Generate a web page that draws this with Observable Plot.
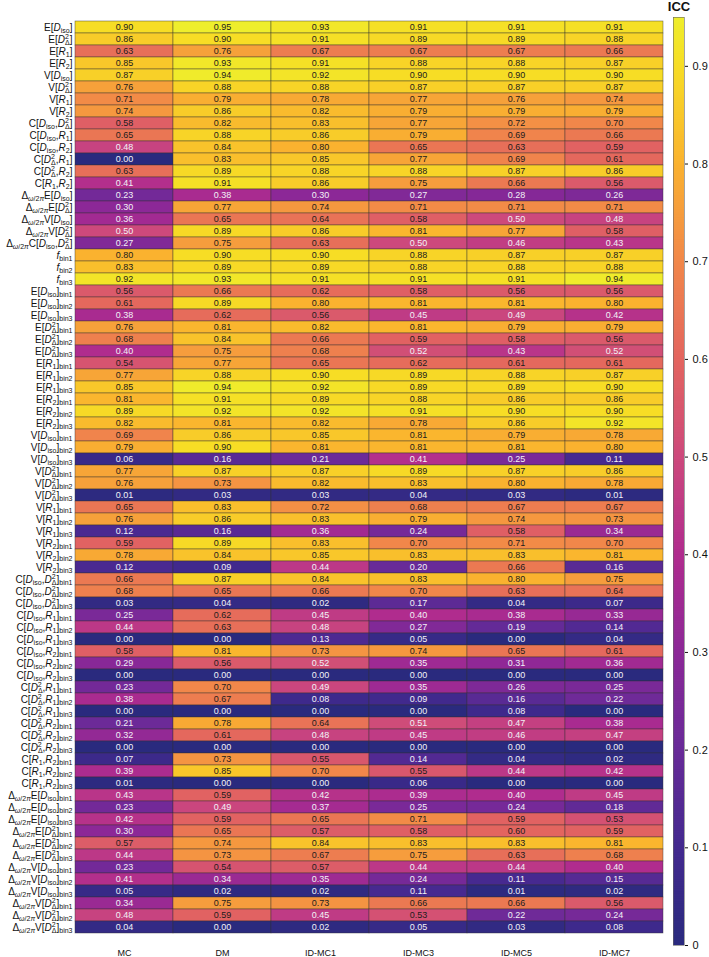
<!DOCTYPE html>
<html>
<head>
<meta charset="utf-8">
<script src="https://cdn.jsdelivr.net/npm/d3@7"></script>
<script src="https://cdn.jsdelivr.net/npm/@observablehq/plot@0.6"></script>
<style>
  body { margin: 0; background: #fff; font-family: "Liberation Sans", Arial, sans-serif; }
  #wrap { position: relative; width: 709px; height: 957px; overflow: hidden; }
  #wrap svg { position: absolute; top: 0; overflow: visible; }
  #icc { position: absolute; left: 662px; width: 34px; top: 0px; text-align: center;
         font-weight: bold; font-size: 13px; line-height: 14px; color: #111; }
</style>
</head>
<body>
<div id="wrap"><div id="icc">ICC</div></div>
<script>
// Methods (columns)
const methods = ["MC", "DM", "ID-MC1", "ID-MC3", "ID-MC5", "ID-MC7"];

// Parameter labels (rows), written in a small markup: _{..} subscript, ^{..} superscript
const rowLabels = [
  "E[D_{iso}]", "E[D^{2}_{Δ}]", "E[R_{1}]", "E[R_{2}]",
  "V[D_{iso}]", "V[D^{2}_{Δ}]", "V[R_{1}]", "V[R_{2}]",
  "C[D_{iso},D^{2}_{Δ}]", "C[D_{iso},R_{1}]", "C[D_{iso},R_{2}]",
  "C[D^{2}_{Δ},R_{1}]", "C[D^{2}_{Δ},R_{2}]", "C[R_{1},R_{2}]",
  "Δ_{ω/2π}E[D_{iso}]", "Δ_{ω/2π}E[D^{2}_{Δ}]", "Δ_{ω/2π}V[D_{iso}]", "Δ_{ω/2π}V[D^{2}_{Δ}]",
  "Δ_{ω/2π}C[D_{iso},D^{2}_{Δ}]",
  "f_{bin1}", "f_{bin2}", "f_{bin3}",
  "E[D_{iso}]_{bin1}", "E[D_{iso}]_{bin2}", "E[D_{iso}]_{bin3}",
  "E[D^{2}_{Δ}]_{bin1}", "E[D^{2}_{Δ}]_{bin2}", "E[D^{2}_{Δ}]_{bin3}",
  "E[R_{1}]_{bin1}", "E[R_{1}]_{bin2}", "E[R_{1}]_{bin3}",
  "E[R_{2}]_{bin1}", "E[R_{2}]_{bin2}", "E[R_{2}]_{bin3}",
  "V[D_{iso}]_{bin1}", "V[D_{iso}]_{bin2}", "V[D_{iso}]_{bin3}",
  "V[D^{2}_{Δ}]_{bin1}", "V[D^{2}_{Δ}]_{bin2}", "V[D^{2}_{Δ}]_{bin3}",
  "V[R_{1}]_{bin1}", "V[R_{1}]_{bin2}", "V[R_{1}]_{bin3}",
  "V[R_{2}]_{bin1}", "V[R_{2}]_{bin2}", "V[R_{2}]_{bin3}",
  "C[D_{iso},D^{2}_{Δ}]_{bin1}", "C[D_{iso},D^{2}_{Δ}]_{bin2}", "C[D_{iso},D^{2}_{Δ}]_{bin3}",
  "C[D_{iso},R_{1}]_{bin1}", "C[D_{iso},R_{1}]_{bin2}", "C[D_{iso},R_{1}]_{bin3}",
  "C[D_{iso},R_{2}]_{bin1}", "C[D_{iso},R_{2}]_{bin2}", "C[D_{iso},R_{2}]_{bin3}",
  "C[D^{2}_{Δ},R_{1}]_{bin1}", "C[D^{2}_{Δ},R_{1}]_{bin2}", "C[D^{2}_{Δ},R_{1}]_{bin3}",
  "C[D^{2}_{Δ},R_{2}]_{bin1}", "C[D^{2}_{Δ},R_{2}]_{bin2}", "C[D^{2}_{Δ},R_{2}]_{bin3}",
  "C[R_{1},R_{2}]_{bin1}", "C[R_{1},R_{2}]_{bin2}", "C[R_{1},R_{2}]_{bin3}",
  "Δ_{ω/2π}E[D_{iso}]_{bin1}", "Δ_{ω/2π}E[D_{iso}]_{bin2}", "Δ_{ω/2π}E[D_{iso}]_{bin3}",
  "Δ_{ω/2π}E[D^{2}_{Δ}]_{bin1}", "Δ_{ω/2π}E[D^{2}_{Δ}]_{bin2}", "Δ_{ω/2π}E[D^{2}_{Δ}]_{bin3}",
  "Δ_{ω/2π}V[D_{iso}]_{bin1}", "Δ_{ω/2π}V[D_{iso}]_{bin2}", "Δ_{ω/2π}V[D_{iso}]_{bin3}",
  "Δ_{ω/2π}V[D^{2}_{Δ}]_{bin1}", "Δ_{ω/2π}V[D^{2}_{Δ}]_{bin2}", "Δ_{ω/2π}V[D^{2}_{Δ}]_{bin3}"
];

// ICC values, one array per method, in row order
const iccMC = [
  0.90, 0.86, 0.63, 0.85, 0.87, 0.76, 0.71, 0.74, 0.58, 0.65, 0.48, 0.00, 0.63, 0.41,
  0.23, 0.30, 0.36, 0.50, 0.27, 0.80, 0.83, 0.92,
  0.56, 0.61, 0.38, 0.76, 0.68, 0.40, 0.54, 0.77, 0.85, 0.81, 0.89, 0.82,
  0.69, 0.79, 0.06, 0.77, 0.76, 0.01, 0.65, 0.76, 0.12, 0.59, 0.78, 0.12,
  0.66, 0.68, 0.03, 0.25, 0.44, 0.00, 0.58, 0.29, 0.00, 0.23, 0.38, 0.00,
  0.21, 0.32, 0.00, 0.07, 0.39, 0.01,
  0.43, 0.23, 0.42, 0.30, 0.57, 0.44, 0.23, 0.41, 0.05, 0.34, 0.48, 0.04
];
const iccDM = [
  0.95, 0.90, 0.76, 0.93, 0.94, 0.88, 0.79, 0.86, 0.82, 0.88, 0.84, 0.83, 0.89, 0.91,
  0.38, 0.77, 0.65, 0.89, 0.75, 0.90, 0.89, 0.93,
  0.66, 0.89, 0.62, 0.81, 0.84, 0.75, 0.77, 0.88, 0.94, 0.91, 0.92, 0.81,
  0.86, 0.90, 0.16, 0.87, 0.73, 0.03, 0.83, 0.86, 0.16, 0.89, 0.84, 0.09,
  0.87, 0.65, 0.04, 0.62, 0.63, 0.00, 0.81, 0.56, 0.00, 0.70, 0.67, 0.00,
  0.78, 0.61, 0.00, 0.73, 0.85, 0.00,
  0.59, 0.49, 0.59, 0.65, 0.74, 0.73, 0.54, 0.34, 0.02, 0.75, 0.59, 0.00
];
const iccIDMC1 = [
  0.93, 0.91, 0.67, 0.91, 0.92, 0.88, 0.78, 0.82, 0.83, 0.86, 0.80, 0.85, 0.88, 0.86,
  0.30, 0.74, 0.64, 0.86, 0.63, 0.90, 0.89, 0.91,
  0.62, 0.80, 0.56, 0.82, 0.66, 0.68, 0.65, 0.90, 0.92, 0.89, 0.92, 0.82,
  0.85, 0.81, 0.21, 0.87, 0.82, 0.03, 0.72, 0.83, 0.36, 0.83, 0.85, 0.44,
  0.84, 0.66, 0.02, 0.45, 0.48, 0.13, 0.73, 0.52, 0.00, 0.49, 0.08, 0.00,
  0.64, 0.48, 0.00, 0.55, 0.70, 0.00,
  0.42, 0.37, 0.65, 0.57, 0.84, 0.67, 0.57, 0.35, 0.02, 0.73, 0.45, 0.02
];
const iccIDMC3 = [
  0.91, 0.89, 0.67, 0.88, 0.90, 0.87, 0.77, 0.79, 0.77, 0.79, 0.65, 0.77, 0.88, 0.75,
  0.27, 0.71, 0.58, 0.81, 0.50, 0.88, 0.88, 0.91,
  0.58, 0.81, 0.45, 0.81, 0.59, 0.52, 0.62, 0.89, 0.89, 0.88, 0.91, 0.78,
  0.81, 0.81, 0.41, 0.89, 0.83, 0.04, 0.68, 0.79, 0.24, 0.70, 0.83, 0.20,
  0.83, 0.70, 0.17, 0.40, 0.27, 0.05, 0.74, 0.35, 0.00, 0.35, 0.09, 0.00,
  0.51, 0.45, 0.00, 0.14, 0.55, 0.06,
  0.39, 0.25, 0.71, 0.58, 0.83, 0.75, 0.44, 0.24, 0.11, 0.66, 0.53, 0.05
];
const iccIDMC5 = [
  0.91, 0.89, 0.67, 0.88, 0.90, 0.87, 0.76, 0.79, 0.72, 0.69, 0.63, 0.69, 0.87, 0.66,
  0.28, 0.71, 0.50, 0.77, 0.46, 0.87, 0.88, 0.91,
  0.56, 0.81, 0.49, 0.79, 0.58, 0.43, 0.61, 0.88, 0.89, 0.86, 0.90, 0.86,
  0.79, 0.81, 0.25, 0.87, 0.80, 0.03, 0.67, 0.74, 0.58, 0.71, 0.83, 0.66,
  0.80, 0.63, 0.04, 0.38, 0.19, 0.00, 0.65, 0.31, 0.00, 0.26, 0.16, 0.08,
  0.47, 0.46, 0.00, 0.04, 0.44, 0.00,
  0.40, 0.24, 0.59, 0.60, 0.83, 0.63, 0.44, 0.11, 0.01, 0.66, 0.22, 0.03
];
const iccIDMC7 = [
  0.91, 0.88, 0.66, 0.87, 0.90, 0.87, 0.74, 0.79, 0.70, 0.66, 0.59, 0.61, 0.86, 0.56,
  0.26, 0.71, 0.48, 0.58, 0.43, 0.87, 0.88, 0.94,
  0.56, 0.80, 0.42, 0.79, 0.56, 0.52, 0.61, 0.87, 0.90, 0.86, 0.90, 0.92,
  0.78, 0.80, 0.11, 0.86, 0.78, 0.01, 0.67, 0.73, 0.34, 0.70, 0.81, 0.16,
  0.75, 0.64, 0.07, 0.33, 0.14, 0.04, 0.61, 0.36, 0.00, 0.25, 0.22, 0.00,
  0.38, 0.47, 0.00, 0.02, 0.42, 0.00,
  0.45, 0.18, 0.53, 0.59, 0.81, 0.68, 0.40, 0.15, 0.02, 0.56, 0.24, 0.08
];
const columns = [iccMC, iccDM, iccIDMC1, iccIDMC3, iccIDMC5, iccIDMC7];

// Colour bar tick values
const colorTicks = [0, 0.1, 0.2, 0.3, 0.4, 0.5, 0.6, 0.7, 0.8, 0.9];

// Plasma-like ramp over the ICC range
const iccMax = 0.95;
const rampStops = [0, 0.1, 0.2, 0.3, 0.4, 0.5, 0.6, 0.7, 0.8, 0.9, 0.95];
const rampColors = ["#2a2a7e", "#43298f", "#682a98", "#8c2897", "#b02c8e", "#cd497c",
                    "#e3655f", "#f1874a", "#fab22f", "#f7dd25", "#eeee2c"];
const ramp = d3.scaleLinear().domain(rampStops).range(rampColors)
  .interpolate(d3.interpolateRgb).clamp(true);
const colorScale = {type: "linear", domain: [0, iccMax], interpolate: t => ramp(t * iccMax)};

const cells = rowLabels.flatMap((row, i) =>
  methods.map((method, j) => ({row, method, value: columns[j][i]})));

const fontFamily = "'Liberation Sans', Arial, sans-serif";
const light = d => d.value >= 0.525;

const heat = Plot.plot({
  width: 668,
  height: 957,
  marginLeft: 75,
  marginRight: 5,
  marginTop: 8,
  marginBottom: 12,
  style: {fontFamily, fontSize: "9px", background: "transparent", color: "#111"},
  x: {domain: methods, padding: 0, tickSize: 0, tickPadding: 4, label: null},
  y: {domain: rowLabels, padding: 0, tickSize: 0, tickPadding: 3, label: null},
  color: colorScale,
  marks: [
    Plot.cell(cells, {x: "method", y: "row", fill: "value",
      stroke: "#333", strokeWidth: 0.6, strokeOpacity: 0.7}),
    Plot.text(cells.filter(d => !light(d)), {x: "method", y: "row",
      text: d => d.value.toFixed(2), fill: "#f2f2f6", fontSize: 9}),
    Plot.text(cells.filter(light), {x: "method", y: "row",
      text: d => d.value.toFixed(2), fill: "#1c1c1c", fontSize: 9})
  ]
});
heat.style.left = "0px";

// Colour bar as its own small plot sharing the same colour mapping
const step = 0.0025;
const barSteps = d3.range(0, iccMax, step);
const bar = Plot.plot({
  width: 46,
  height: 957,
  marginLeft: 10,
  marginRight: 25,
  marginTop: 17,
  marginBottom: 12,
  style: {fontFamily, fontSize: "11px", background: "transparent", color: "#111"},
  x: {domain: [0, 1], axis: null},
  y: {domain: [0, iccMax], ticks: colorTicks, tickFormat: d3.format("~g"),
      axis: "right", tickSize: 3, tickPadding: 5, label: null},
  color: colorScale,
  marks: [
    Plot.rect(barSteps, {x1: 0, x2: 1, y1: d => d, y2: d => Math.min(d + step * 1.5, iccMax),
      fill: d => d + step / 2}),
    Plot.frame({stroke: "#666", strokeWidth: 0.6})
  ]
});
bar.style.left = "663px";

const wrap = document.getElementById("wrap");
wrap.appendChild(heat);
wrap.appendChild(bar);

// Rich row labels: italics, subscripts and superscripts as tspans
const italicChars = new Set(["D", "R", "f", "ω", "π"]);
const baseSize = 10, scriptSize = 7;
const ctx = document.createElement("canvas").getContext("2d");
function textWidth(str, size, italic) {
  ctx.font = `${italic ? "italic " : ""}${size}px ${fontFamily}`;
  return ctx.measureText(str).width;
}
function parseMarkup(s) {
  const runs = [];
  let i = 0;
  while (i < s.length) {
    if ((s[i] === "_" || s[i] === "^") && s[i + 1] === "{") {
      const end = s.indexOf("}", i);
      runs.push({text: s.slice(i + 2, end), level: s[i] === "_" ? "sub" : "sup"});
      i = end + 1;
    } else {
      let j = i;
      while (j < s.length && !((s[j] === "_" || s[j] === "^") && s[j + 1] === "{")) j++;
      runs.push({text: s.slice(i, j), level: "base"});
      i = j;
    }
  }
  return runs;
}
const shift = {base: 0, sub: 2.5, sup: -3.5};
function richLabel(textEl, markup) {
  const ns = "http://www.w3.org/2000/svg";
  while (textEl.firstChild) textEl.removeChild(textEl.firstChild);
  textEl.style.fontSize = baseSize + "px";
  textEl.setAttribute("fill", "#111");
  const runs = parseMarkup(markup);
  let offset = 0;
  runs.forEach((run, k) => {
    const size = run.level === "base" ? baseSize : scriptSize;
    let dx = 0;
    const prev = runs[k - 1];
    if (run.level === "sub" && prev && prev.level === "sup") {
      dx = -[...prev.text].reduce((w, c) => w + textWidth(c, scriptSize, italicChars.has(c)), 0);
    }
    // split into italic / upright pieces
    const pieces = [];
    for (const c of run.text) {
      const it = italicChars.has(c);
      if (pieces.length && pieces[pieces.length - 1].it === it) pieces[pieces.length - 1].t += c;
      else pieces.push({t: c, it});
    }
    pieces.forEach((p, m) => {
      const ts = document.createElementNS(ns, "tspan");
      ts.textContent = p.t;
      ts.style.fontSize = size + "px";
      if (p.it) ts.style.fontStyle = "italic";
      if (m === 0) {
        const dy = shift[run.level] - offset;
        if (dy) ts.setAttribute("dy", dy);
        if (dx) ts.setAttribute("dx", dx.toFixed(2));
        offset = shift[run.level];
      }
      textEl.appendChild(ts);
    });
  });
}
const rowSet = new Set(rowLabels);
heat.querySelectorAll("text").forEach(t => {
  const s = t.textContent;
  if (rowSet.has(s)) richLabel(t, s);
});
</script>
</body>
</html>
